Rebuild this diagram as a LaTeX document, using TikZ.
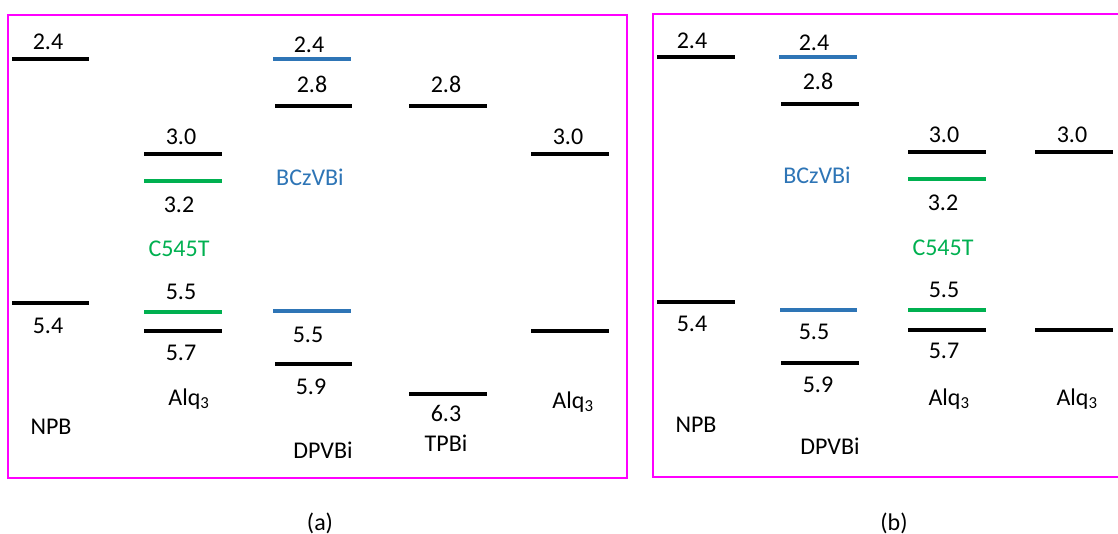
\documentclass[tikz,border=0pt]{standalone}
\usepackage{fontspec}
\setmainfont{Carlito}
\definecolor{lvblue}{RGB}{46,117,182}
\definecolor{lvgreen}{RGB}{0,176,80}
\definecolor{framec}{RGB}{255,0,255}
\begin{document}
\begin{tikzpicture}[x=1pt,y=-1pt,
  level/.style={line width=3.2pt},
  lbl/.style={font=\fontsize{24}{28}\selectfont, inner sep=0pt, anchor=base},
  panel/.style={draw=framec, line width=2.5pt}]
\useasboundingbox (0,0) rectangle (1118,534);
% frames
\draw[panel] (8,15) rectangle (627,478);
\draw[panel] (653,14) rectangle (1135,477);

% ---------------- panel (a) ----------------
% NPB
\draw[level] (12,59) -- (89,59);
\draw[level] (12,303) -- (89,303);
\node[lbl] (a24) at (48,50) {2.4};
\node[lbl] (a54) at (48,333) {5.4};
\node[lbl] (anpb) at (51,434) {NPB};
% Alq3 + C545T
\draw[level] (144,154) -- (222,154);
\draw[level,lvgreen] (144,181) -- (222,181);
\draw[level,lvgreen] (144,312) -- (222,312);
\draw[level] (144,331) -- (222,331);
\node[lbl] (a30) at (181,145) {3.0};
\node[lbl] (a32) at (179,213) {3.2};
\node[lbl,text=lvgreen] (ac545t) at (179,257) {C545T};
\node[lbl] (a55g) at (181,300) {5.5};
\node[lbl] (a57) at (181,360) {5.7};
\node[lbl] (aalq) at (189,405) {Alq\textsubscript{3}};
% DPVBi + BCzVBi
\draw[level,lvblue] (273,59) -- (351,59);
\draw[level] (275,106) -- (352,106);
\draw[level,lvblue] (273,311) -- (351,311);
\draw[level] (275,364) -- (352,364);
\node[lbl] (a24b) at (309,53) {2.4};
\node[lbl] (a28) at (312,93) {2.8};
\node[lbl,text=lvblue] (abczvbi) at (310,186) {BCzVBi};
\node[lbl] (a55b) at (308,342) {5.5};
\node[lbl] (a59) at (311,394) {5.9};
\node[lbl] (adpvbi) at (323,458) {DPVBi};
% TPBi
\draw[level] (409,106) -- (487,106);
\draw[level] (409,394) -- (487,394);
\node[lbl] (a28t) at (446,93) {2.8};
\node[lbl] (a63) at (446,421) {6.3};
\node[lbl] (atpbi) at (446,451) {TPBi};
% Alq3 right
\draw[level] (531,154) -- (609,154);
\draw[level] (531,331) -- (609,331);
\node[lbl] (a30r) at (568,145) {3.0};
\node[lbl] (aalqr) at (573,408) {Alq\textsubscript{3}};
\node[lbl] (alab) at (320,530) {(a)};

% ---------------- panel (b) ----------------
% NPB
\draw[level] (657,57) -- (735,57);
\draw[level] (657,302) -- (735,302);
\node[lbl] (b24) at (692,49) {2.4};
\node[lbl] (b54) at (692,331) {5.4};
\node[lbl] (bnpb) at (696,432) {NPB};
% DPVBi + BCzVBi
\draw[level,lvblue] (779,57) -- (857,57);
\draw[level] (781,104) -- (859,104);
\draw[level,lvblue] (780,310) -- (857,310);
\draw[level] (781,363) -- (859,363);
\node[lbl] (b24b) at (814,51) {2.4};
\node[lbl] (b28) at (818,90) {2.8};
\node[lbl,text=lvblue] (bbczvbi) at (817,184) {BCzVBi};
\node[lbl] (b55b) at (814,339) {5.5};
\node[lbl] (b59) at (818,392) {5.9};
\node[lbl] (bdpvbi) at (830,454) {DPVBi};
% Alq3 + C545T
\draw[level] (908,152) -- (986,152);
\draw[level,lvgreen] (908,179) -- (986,179);
\draw[level,lvgreen] (908,310) -- (986,310);
\draw[level] (908,330) -- (986,330);
\node[lbl] (b30) at (944,143) {3.0};
\node[lbl] (b32) at (943,211) {3.2};
\node[lbl,text=lvgreen] (bc545t) at (943,256) {C545T};
\node[lbl] (b55g) at (944,298) {5.5};
\node[lbl] (b57) at (944,358) {5.7};
\node[lbl] (balq) at (949,405) {Alq\textsubscript{3}};
% Alq3 right
\draw[level] (1035,152) -- (1113,152);
\draw[level] (1035,330) -- (1113,330);
\node[lbl] (b30r) at (1072,143) {3.0};
\node[lbl] (balqr) at (1077,405) {Alq\textsubscript{3}};
\node[lbl] (blab) at (894,530) {(b)};
\end{tikzpicture}
\end{document}
